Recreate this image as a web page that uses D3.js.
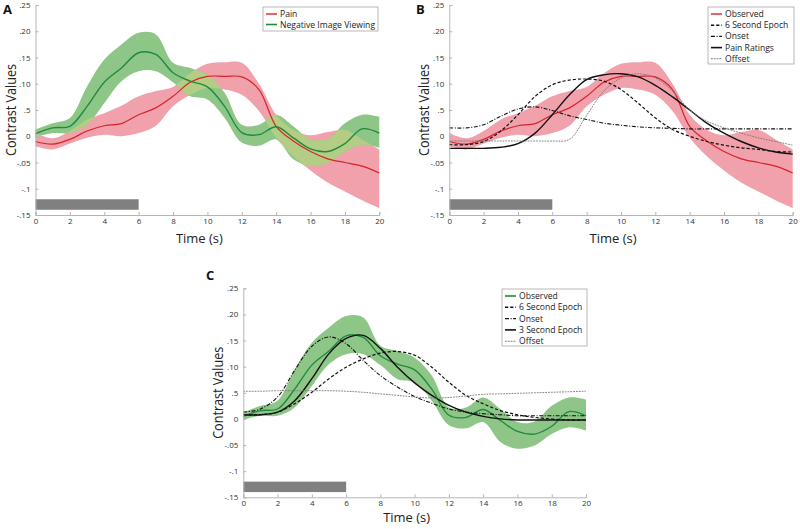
<!DOCTYPE html>
<html>
<head>
<meta charset="utf-8">
<script src="https://cdn.jsdelivr.net/npm/d3@7"></script>
<style>
  body { margin: 0; background: #fff; }
  svg { display: block; }
  text { font-family: "Open Sans", sans-serif; }
</style>
</head>
<body>
<svg id="fig" width="800" height="529"></svg>
<script>
// time in seconds, one sample per second
const time = d3.range(0, 21);

// observed pain response (mean and band)
const painMean  = [-0.010,-0.015,-0.006,0.010,0.020,0.024,0.041,0.054,0.076,0.103,0.114,0.114,0.113,0.089,0.019,-0.009,-0.029,-0.043,-0.050,-0.057,-0.070];
const painUpper = [0.006,-0.004,0.010,0.032,0.044,0.058,0.076,0.086,0.094,0.120,0.138,0.141,0.140,0.100,0.041,0.012,0.002,0.008,0.012,-0.006,-0.025];
const painLower = [-0.019,-0.025,-0.014,-0.003,0.003,0.000,0.006,0.020,0.057,0.079,0.092,0.089,0.079,0.048,-0.003,-0.038,-0.065,-0.088,-0.105,-0.122,-0.137];

// observed negative image viewing response
const negMean  = [0.005,0.016,0.019,0.057,0.103,0.130,0.159,0.156,0.121,0.105,0.094,0.057,0.007,0.003,0.018,-0.003,-0.024,-0.029,-0.014,0.014,0.006];
const negUpper = [0.013,0.025,0.035,0.095,0.146,0.175,0.197,0.194,0.140,0.130,0.117,0.083,0.022,0.022,0.041,0.019,-0.006,-0.005,0.025,0.041,0.037];
const negLower = [-0.002,0.006,0.006,0.022,0.063,0.105,0.124,0.124,0.103,0.076,0.070,0.035,-0.012,-0.018,-0.006,-0.044,-0.057,-0.051,-0.029,-0.016,-0.022];

// panel B model fits
const epoch6B     = [-0.016,-0.016,-0.010,0.010,0.041,0.076,0.098,0.107,0.109,0.105,0.089,0.063,0.035,0.013,0.000,-0.010,-0.017,-0.022,-0.025,-0.029,-0.030];
const onsetB      = [0.016,0.016,0.022,0.038,0.052,0.056,0.049,0.039,0.032,0.025,0.021,0.018,0.016,0.015,0.014,0.014,0.014,0.014,0.014,0.014,0.014];
const painRatings = [-0.023,-0.023,-0.023,-0.021,-0.014,0.006,0.041,0.079,0.108,0.117,0.119,0.113,0.097,0.075,0.050,0.025,0.006,-0.010,-0.022,-0.030,-0.034];
const offsetB     = [-0.009,-0.009,-0.009,-0.009,-0.009,-0.009,-0.009,-0.006,0.040,0.086,0.111,0.119,0.111,0.086,0.050,0.029,0.016,0.006,-0.003,-0.010,-0.017];

// panel C model fits
const epoch6C  = [0.008,0.008,0.013,0.029,0.051,0.077,0.099,0.115,0.126,0.129,0.122,0.099,0.070,0.045,0.029,0.016,0.008,0.003,0.000,-0.002,-0.002];
const onsetC   = [0.013,0.019,0.042,0.093,0.139,0.157,0.144,0.112,0.083,0.061,0.043,0.030,0.019,0.013,0.010,0.008,0.006,0.006,0.006,0.006,0.006];
const epoch3C  = [0.008,0.008,0.013,0.035,0.077,0.125,0.154,0.160,0.135,0.099,0.069,0.045,0.026,0.013,0.005,0.000,-0.002,-0.002,-0.002,-0.002,-0.002];
const offsetC  = [0.053,0.053,0.054,0.054,0.054,0.054,0.053,0.051,0.048,0.045,0.042,0.040,0.041,0.044,0.047,0.048,0.049,0.050,0.051,0.052,0.053];

// stimulus bar (0-6 s)
const stimTime  = [0, 6];
const stimLevel = [-0.14, -0.12];

const xTicks = d3.range(0, 21, 2);
const yTicks = [0.25, 0.20, 0.15, 0.10, 0.05, 0, -0.05, -0.10, -0.15];
const yTickLabels = [".25", ".20", ".15", ".10", ".5", "0", "-.05", "-.1", "-.15"];

const RED = "#d8232a", PINK = "#f0a1ab", GREEN = "#1f8b3c", GBAND = "#8ec688", MIX = "#b4cd84";

const svg = d3.select("#fig");
let clipId = 0;

function drawPanel(cfg) {
  const g = svg.append("g");
  const x = d3.scaleLinear().domain([0, 20]).range([cfg.x0, cfg.x1]);
  const y = d3.scaleLinear().domain([-0.15, 0.25]).range([cfg.yb, cfg.yt]);
  const curve = d3.curveCatmullRom.alpha(0.5);

  const band = (lo, hi) => d3.area()
    .x((d, i) => x(time[i]))
    .y0((d, i) => y(lo[i]))
    .y1((d, i) => y(hi[i]))
    .curve(curve)(time);
  const line = arr => d3.line()
    .x((d, i) => x(time[i]))
    .y((d, i) => y(arr[i]))
    .curve(curve)(time);

  // stimulus bar
  g.append("rect")
    .attr("x", x(stimTime[0])).attr("y", y(stimLevel[1]))
    .attr("width", x(stimTime[1]) - x(stimTime[0]))
    .attr("height", y(stimLevel[0]) - y(stimLevel[1]))
    .attr("fill", "#808080");

  cfg.bands.forEach(b => {
    g.append("path").attr("d", band(b.lo, b.hi)).attr("fill", b.fill);
  });

  // where two bands overlap they blend to a yellow-green
  if (cfg.bands.length === 2) {
    const id = "ov" + (clipId++);
    g.append("clipPath").attr("id", id)
      .append("path").attr("d", band(cfg.bands[0].lo, cfg.bands[0].hi));
    g.append("path").attr("d", band(cfg.bands[1].lo, cfg.bands[1].hi))
      .attr("fill", MIX).attr("clip-path", `url(#${id})`);
  }

  cfg.lines.forEach(s => {
    g.append("path").attr("d", line(s.data))
      .attr("fill", "none").attr("stroke", s.stroke)
      .attr("stroke-width", s.width)
      .attr("stroke-dasharray", s.dash || null);
  });

  // axes
  const xAxis = g.append("g").attr("transform", `translate(0,${cfg.yb})`)
    .call(d3.axisBottom(x).tickValues(xTicks).tickSize(-3).tickPadding(3));
  const yAxis = g.append("g").attr("transform", `translate(${cfg.x0},0)`)
    .call(d3.axisLeft(y).tickValues(yTicks).tickSize(-3).tickPadding(5)
      .tickFormat((d, i) => yTickLabels[i]));
  [xAxis, yAxis].forEach(a => {
    a.select(".domain").attr("stroke", "#b5b5b5");
    a.selectAll(".tick line").attr("stroke", "#b5b5b5");
    a.selectAll(".tick text").attr("fill", "#333").attr("font-size", 8)
      .attr("font-family", "Open Sans, sans-serif");
  });

  // axis titles
  g.append("text")
    .attr("x", (cfg.x0 + cfg.x1) / 2 - 8).attr("y", cfg.yb + cfg.titleDy)
    .attr("text-anchor", "middle").attr("font-size", 13).attr("fill", "#222")
    .attr("textLength", 47).attr("lengthAdjust", "spacingAndGlyphs")
    .text("Time (s)");
  g.append("text")
    .attr("transform", `translate(${cfg.x0 - 20},${(cfg.yt + cfg.yb) / 2}) rotate(-90)`)
    .attr("text-anchor", "middle").attr("font-size", 14).attr("fill", "#222")
    .attr("textLength", 92).attr("lengthAdjust", "spacingAndGlyphs")
    .text("Contrast Values");

  // panel letter
  g.append("text").attr("x", cfg.letter[0]).attr("y", cfg.letter[1])
    .attr("font-family", "Liberation Sans, Arial, sans-serif")
    .attr("font-weight", "bold").attr("font-size", 13).attr("fill", "#111")
    .text(cfg.name);

  // legend
  const L = cfg.legend;
  g.append("rect").attr("x", L.x).attr("y", L.y).attr("width", L.w).attr("height", L.h)
    .attr("fill", "#fff").attr("stroke", "#a8a8a8").attr("stroke-width", 0.8);
  cfg.lines.forEach((s, i) => {
    const yy = L.y + 7 + i * L.step;
    g.append("line").attr("x1", L.x + 3).attr("x2", L.x + 14)
      .attr("y1", yy).attr("y2", yy)
      .attr("stroke", s.stroke).attr("stroke-width", s.width + 0.2)
      .attr("stroke-dasharray", s.dash || null);
    g.append("text").attr("x", L.x + 17).attr("y", yy)
      .attr("dy", "0.35em").attr("font-size", 8.6).attr("fill", "#222")
      .text(s.label);
  });
}

const dash6 = "3.2,2", dashOn = "4,1.6,1,1.6", dashOff = "1.8,1";

drawPanel({
  name: "A", letter: [3, 14],
  x0: 35.5, x1: 379.3, yt: 5, yb: 215, titleDy: 27.5,
  bands: [
    { lo: painLower, hi: painUpper, fill: PINK },
    { lo: negLower, hi: negUpper, fill: GBAND }
  ],
  lines: [
    { data: painMean, stroke: RED, width: 1.2, label: "Pain" },
    { data: negMean, stroke: GREEN, width: 1.4, label: "Negative Image Viewing" }
  ],
  legend: { x: 263, y: 7, w: 115, h: 24, step: 10.5 }
});

drawPanel({
  name: "B", letter: [416, 14],
  x0: 449.3, x1: 792.7, yt: 5, yb: 215, titleDy: 27.5,
  bands: [
    { lo: painLower, hi: painUpper, fill: PINK }
  ],
  lines: [
    { data: painMean, stroke: RED, width: 1.2, label: "Observed" },
    { data: epoch6B, stroke: "#111", width: 1.2, dash: dash6, label: "6 Second Epoch" },
    { data: onsetB, stroke: "#111", width: 1.1, dash: dashOn, label: "Onset" },
    { data: painRatings, stroke: "#111", width: 1.4, label: "Pain Ratings" },
    { data: offsetB, stroke: "#777", width: 0.9, dash: dashOff, label: "Offset" }
  ],
  legend: { x: 708, y: 7, w: 86, h: 57, step: 11.2 }
});

drawPanel({
  name: "C", letter: [206, 280],
  x0: 243.3, x1: 586, yt: 288.3, yb: 497.3, titleDy: 25,
  bands: [
    { lo: negLower, hi: negUpper, fill: GBAND }
  ],
  lines: [
    { data: negMean, stroke: GREEN, width: 1.4, label: "Observed" },
    { data: epoch6C, stroke: "#111", width: 1.2, dash: dash6, label: "6 Second Epoch" },
    { data: onsetC, stroke: "#111", width: 1.1, dash: dashOn, label: "Onset" },
    { data: epoch3C, stroke: "#111", width: 1.4, label: "3 Second Epoch" },
    { data: offsetC, stroke: "#777", width: 0.9, dash: dashOff, label: "Offset" }
  ],
  legend: { x: 502, y: 289, w: 85, h: 57, step: 11.3 }
});
</script>
</body>
</html>
